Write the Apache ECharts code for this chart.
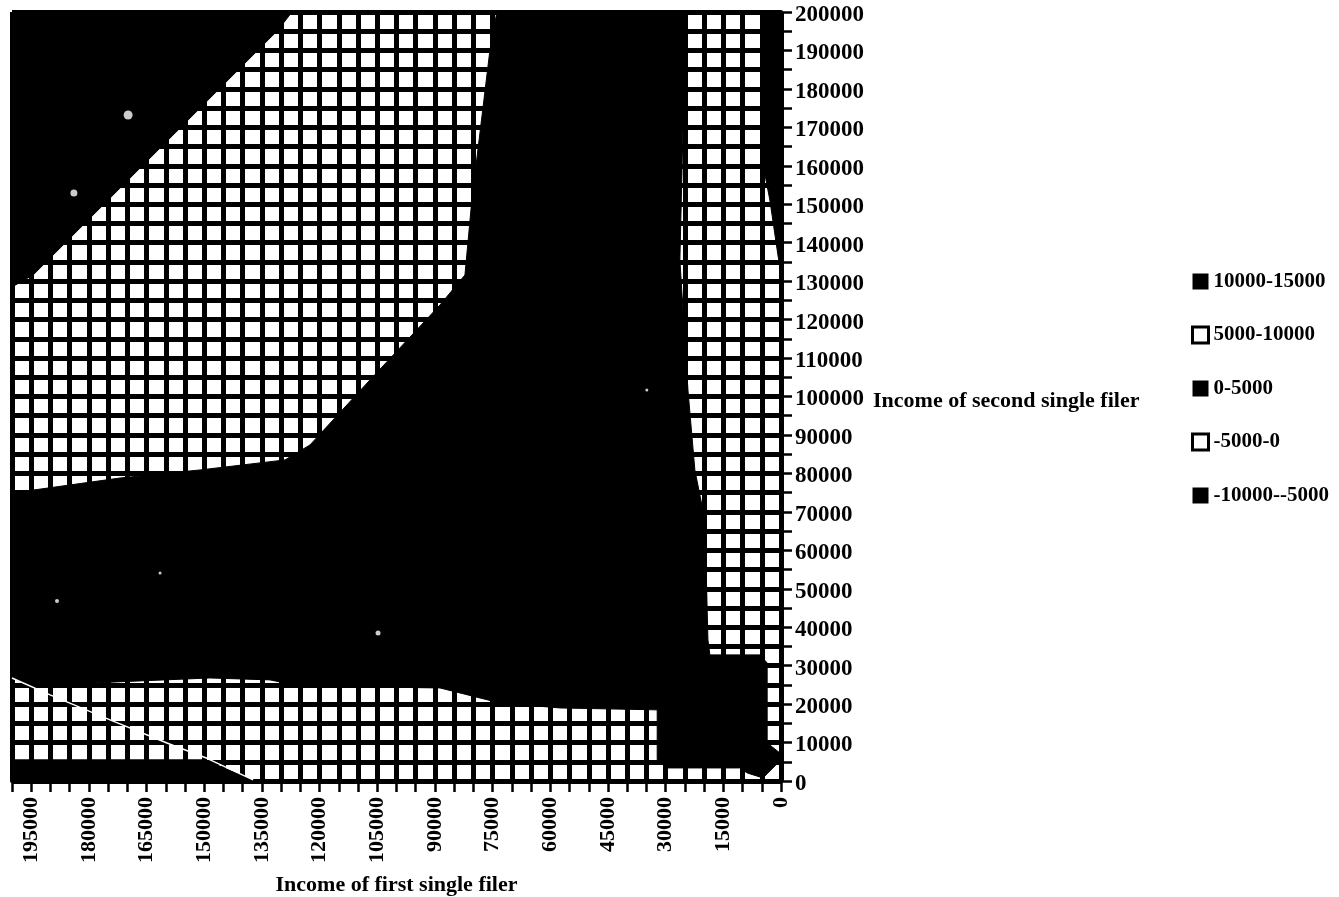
<!DOCTYPE html>
<html>
<head>
<meta charset="utf-8">
<script src="https://cdn.jsdelivr.net/npm/echarts@6/dist/echarts.min.js"></script>
<style>html,body{margin:0;padding:0;background:#fff}#c{width:1339px;height:897px}</style>
</head>
<body>
<div id="c"></div>
<script>
// Band outlines: [income of first filer, income of second filer]
var bandNames = ['10000-15000', '5000-10000', '0-5000', '-5000-0', '-10000--5000'];
var band10000to15000 = [
  [[200000,200000],[127200,200000],[130800,195300],[194500,131600],[200000,128500]]
];
var band5000to10000 = [
  [[127200,200000],[73900,200000],[75700,190100],[80400,151100],[82200,131600],[88700,123800],[106900,104300],
   [122500,87400],[129000,83500],[151100,80900],[171900,78800],[200000,74900],[200000,128500],[194500,131600],[130800,195300]]
];
var band0to5000 = [
  [[73900,200000],[25000,200000],[25500,169300],[26300,135500],[24200,101700],[22400,80900],[19800,67900],[19000,36700],
   [18500,32800],[5500,32800],[3600,30700],[3600,9900],[300,7300],[0,5500],[4700,800],[8800,2100],[10700,3400],[29400,3400],
   [32200,5500],[32200,18500],[57500,19000],[73100,20300],[88700,24200],[125100,24700],[132900,26300],[148500,26800],
   [174500,25700],[195300,24700],[200000,26800],[200000,74900],[171900,78800],[151100,80900],[129000,83500],[122500,87400],
   [106900,104300],[88700,123800],[82200,131600],[80400,151100],[75700,190100]]
];
var bandMinus5000to0 = [
  [[200000,26800],[195300,24700],[174500,25700],[148500,26800],[132900,26300],[125100,24700],[88700,24200],[73100,20300],
   [57500,19000],[32200,18500],[32200,5500],[29400,3400],[10700,3400],[8800,2100],[4700,800],[0,0],[136800,0],[149800,5500],[200000,5500]],
  [[25000,200000],[4900,200000],[4900,161500],[2900,151100],[800,136800],[0,132000],[0,5500],[300,7300],[3600,9900],[3600,30700],
   [5500,32800],[18500,32800],[19000,36700],[19800,67900],[22400,80900],[24200,101700],[26300,135500],[25500,169300]]
];
var bandMinus10000toMinus5000 = [
  [[200000,5500],[149800,5500],[136800,0],[200000,0]],
  [[4900,200000],[0,200000],[0,132000],[800,136800],[2900,151100],[4900,161500]]
];
var thinContour = [[200000,26800],[190100,22400],[174500,15900],[159700,9900],[149300,5900],[137300,300]];
var specks = [[169800,173200,9],[183900,152900,7],[188300,46800,4],[104800,38500,5],[161500,54100,3],[34900,101700,3]];

function bandSeries(name, polygons, fill) {
  return {
    name: name,
    type: 'custom',
    coordinateSystem: 'cartesian2d',
    z: 3,
    silent: true,
    data: polygons.map(function (p, i) { return [p[0][0], p[0][1], i]; }),
    encode: { x: 0, y: 1 },
    renderItem: function (params, api) {
      var pts = polygons[params.dataIndex].map(function (v) { return api.coord(v); });
      return { type: 'polygon', shape: { points: pts }, style: { fill: fill, stroke: fill === 'transparent' ? null : '#000', lineWidth: 1 } };
    }
  };
}

var tickFont = { color: '#000', fontFamily: 'Liberation Serif', fontWeight: 'bold', fontSize: 22 };
var nameFont = { color: '#000', fontFamily: 'Liberation Serif', fontWeight: 'bold', fontSize: 22 };
var meshLine = { show: true, lineStyle: { color: '#000', width: 5 } };

var chart = echarts.init(document.getElementById('c'), null, { renderer: 'canvas' });
chart.setOption({
  backgroundColor: '#fff',
  animation: false,
  grid: { left: 12, top: 12, width: 769, height: 769, show: true, backgroundColor: '#fff', borderWidth: 0, outerBoundsMode: 'none' },
  legend: {
    orient: 'vertical', left: 1186, top: 266, itemWidth: 16, itemHeight: 16, itemGap: 32.5, selectedMode: false,
    textStyle: { color: '#000', fontFamily: 'Liberation Serif', fontWeight: 'bold', fontSize: 21, padding: [0, 0, 0, 0] },
    data: [
      { name: bandNames[0], icon: 'rect', itemStyle: { color: '#000' } },
      { name: bandNames[1], icon: 'rect', itemStyle: { color: '#fff', borderColor: '#000', borderWidth: 3 } },
      { name: bandNames[2], icon: 'rect', itemStyle: { color: '#000' } },
      { name: bandNames[3], icon: 'rect', itemStyle: { color: '#fff', borderColor: '#000', borderWidth: 3 } },
      { name: bandNames[4], icon: 'rect', itemStyle: { color: '#000' } }
    ]
  },
  xAxis: {
    type: 'value', inverse: true, min: 0, max: 200000, interval: 5000,
    name: 'Income of first single filer', nameLocation: 'middle', nameGap: 93, nameMoveOverlap: false, nameTextStyle: nameFont,
    axisLine: { show: true, onZero: false, lineStyle: { color: '#000', width: 4 } },
    axisTick: { show: true, length: 11, lineStyle: { color: '#000', width: 2.5 } },
    axisLabel: Object.assign({}, tickFont, { rotate: 90, margin: 16, hideOverlap: false,
      formatter: function (v) { return v % 15000 === 0 && v < 200000 ? String(v) : ''; } }),
    splitLine: meshLine
  },
  yAxis: {
    type: 'value', position: 'right', min: 0, max: 200000, interval: 5000,
    name: '{a|Income of second single filer}', nameLocation: 'middle', nameRotate: 0, nameGap: 92, nameMoveOverlap: false,
    nameTextStyle: Object.assign({}, nameFont, { rich: { a: Object.assign({}, nameFont, { padding: [9, 0, 0, 0] }) } }),
    axisLine: { show: true, onZero: false, lineStyle: { color: '#000', width: 4 } },
    axisTick: { show: true, length: 11, lineStyle: { color: '#000', width: 2.5 } },
    axisLabel: Object.assign({}, tickFont, { fontSize: 23, margin: 14, hideOverlap: false,
      rich: { a: Object.assign({}, tickFont, { fontSize: 23, padding: [6, 0, 0, 0] }) },
      formatter: function (v) { return v % 10000 === 0 ? '{a|' + v + '}' : ''; } }),
    splitLine: meshLine
  },
  series: [
    bandSeries(bandNames[0], band10000to15000, '#000'),
    bandSeries(bandNames[1], band5000to10000, 'transparent'),
    bandSeries(bandNames[2], band0to5000, '#000'),
    bandSeries(bandNames[3], bandMinus5000to0, 'transparent'),
    bandSeries(bandNames[4], bandMinus10000toMinus5000, '#000'),
    { type: 'line', name: 'contour', data: thinContour, z: 4, silent: true, symbol: 'none',
      lineStyle: { color: '#fff', width: 1.5 } },
    { type: 'scatter', name: 'specks', data: specks, z: 4, silent: true,
      symbolSize: function (d) { return d[2]; }, itemStyle: { color: '#fff' } }
  ]
});
</script>
</body>
</html>
